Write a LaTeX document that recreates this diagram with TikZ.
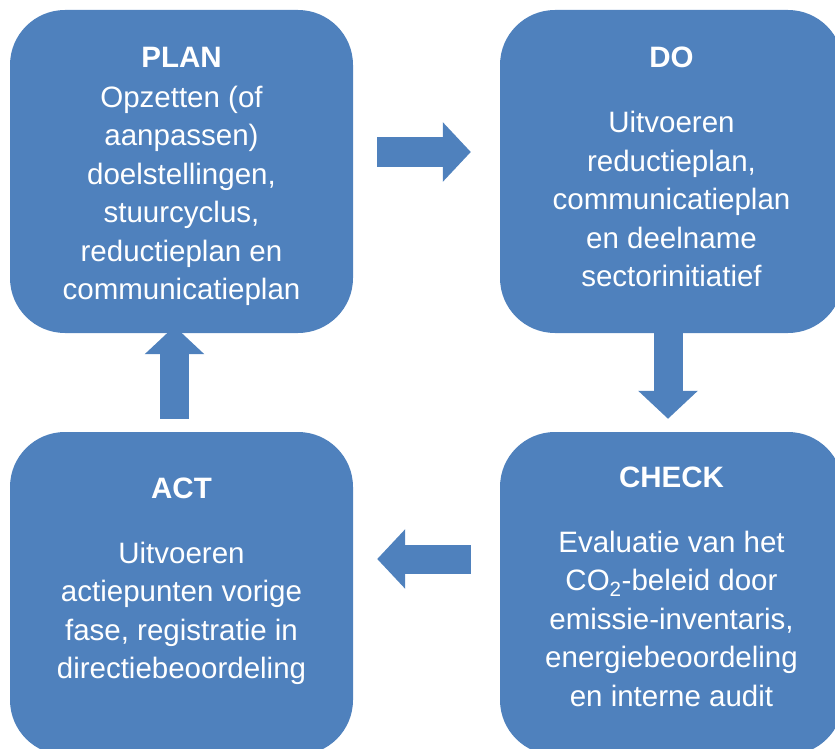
\documentclass[tikz,border=0pt]{standalone}
\usepackage{fontspec}
\setmainfont{Liberation Sans}
\usetikzlibrary{arrows.meta,positioning,calc}
\definecolor{pdcablue}{HTML}{4F81BD}

\begin{document}
\begin{tikzpicture}[x=1pt,y=-1pt,
    box/.style={fill=pdcablue, rounded corners=55pt, minimum width=343pt, minimum height=323pt, inner sep=0pt},
    boxtext/.style={text=white, align=center, anchor=north, inner sep=0pt, font=\fontsize{29.5}{38.5}\selectfont},
    blockarrow/.style={pdcablue, line width=29pt, -{Triangle[width=58pt,length=28pt]}}]

\useasboundingbox (0,0) rectangle (835,749);
\clip (0,0) rectangle (835,749);

    \begin{scope} % Phases
        \node[box] (plan)  at (181.5,171.5) {};
        \node[box] (do)    at (671.5,171.5) {};
        \node[box] (check) at (671.5,593.5) {};
        \node[box] (act)   at (181.5,593.5) {};
    \end{scope}

    \begin{scope} % Texts
        \node[boxtext] (plantext) at ([yshift=-30.05pt]plan.north)
            {\textbf{PLAN}\strut\\[1.5pt] Opzetten (of\\ aanpassen)\\ doelstellingen,\\ stuurcyclus,\\ reductieplan en\\ communicatieplan};
        \node[boxtext] (dotext) at ([yshift=-30.05pt]do.north)
            {\textbf{DO}\strut\\[27pt] Uitvoeren\\ reductieplan,\\ communicatieplan\\ en deelname\\ sectorinitiatief};
        \node[boxtext] (checktext) at ([yshift=-28.05pt]check.north)
            {\textbf{CHECK}\strut\\[26.5pt] Evaluatie van het\\ CO\textsubscript{2}-beleid door\\ emissie-inventaris,\\ energiebeoordeling\\ en interne audit};
        \node[boxtext] (acttext) at ([yshift=-39.05pt]act.north)
            {\textbf{ACT}\strut\\[26.5pt] Uitvoeren\\ actiepunten vorige\\ fase, registratie in\\ directiebeoordeling};
    \end{scope}

    \begin{scope} % Cycle
        \draw[blockarrow, shorten <=24pt, shorten >=29pt] ([yshift=19.5pt]plan.east) -- ([yshift=19.5pt]do.west);
        \draw[blockarrow, shorten >=13pt] ([xshift=-3.5pt]do.south) -- ([xshift=-3.5pt]check.north);
        \draw[blockarrow, shorten <=29pt, shorten >=24pt] ([yshift=34.5pt]check.west) -- ([yshift=34.5pt]act.east);
        \draw[blockarrow, shorten <=13pt, shorten >=-7pt] ([xshift=-7pt]act.north) -- ([xshift=-7pt]plan.south);
    \end{scope}

\end{tikzpicture}
\end{document}
